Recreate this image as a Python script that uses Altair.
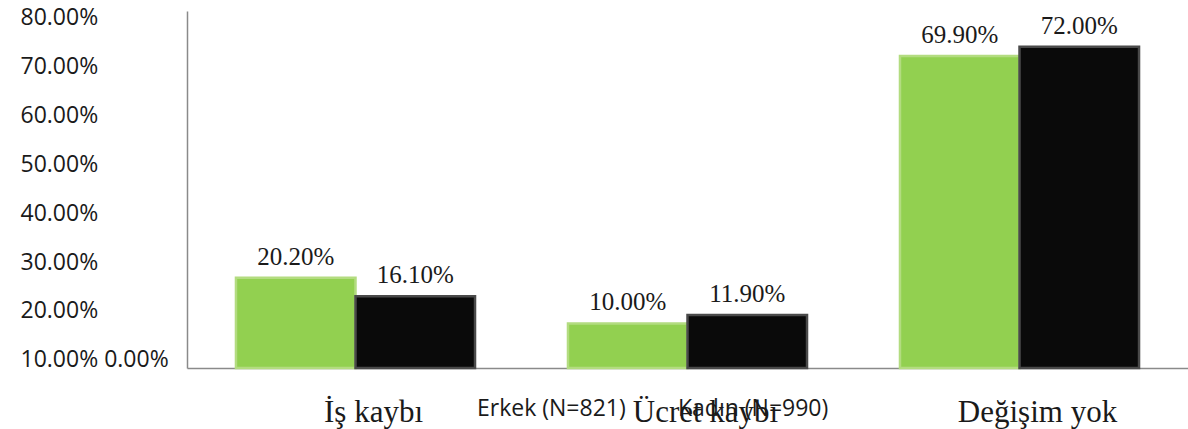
import altair as alt
import pandas as pd

categories = ["İş kaybı", "Ücret kaybı", "Değişim yok"]
groups = ["Erkek (N=821)", "Kadın (N=990)"]
erkek = [20.2, 10.0, 69.9]
kadin = [16.1, 11.9, 72.0]
tick_values = [10, 20, 30, 40, 50, 60, 70, 80]
tick_labels = ["10.00% 0.00%", "20.00%", "30.00%", "40.00%", "50.00%", "60.00%", "70.00%", "80.00%"]

rows = []
for i, c in enumerate(categories):
    rows.append({"cat": c, "grp": groups[0], "grp_s": "s" + groups[0], "val": erkek[i]})
    rows.append({"cat": c, "grp": groups[1], "grp_s": "s" + groups[1], "val": kadin[i]})
df = pd.DataFrame(rows)
ticks_df = pd.DataFrame({"v": tick_values, "lab": tick_labels})

label_expr = "''"
for v, lab in zip(tick_values, tick_labels):
    label_expr = f"datum.value == {v} ? '{lab}' : ({label_expr})"

x_enc = alt.X("cat:N", sort=categories, title=None,
              scale=alt.Scale(paddingInner=0.28, paddingOuter=0.1475),
              axis=alt.Axis(labelAngle=0, labelFont="Liberation Serif", labelFontSize=31,
                            labelColor="#1a1a1a", labelPadding=29, labelOffset=18,
                            ticks=False, domainColor="#8a8a8a", domainWidth=1.5, grid=False))
xoff = alt.XOffset("grp:N", sort=groups)

bars = alt.Chart(df).mark_bar(strokeWidth=2.5).encode(
    x=x_enc,
    xOffset=xoff,
    y=alt.Y("val:Q", scale=alt.Scale(domain=[0, 80], nice=False),
            axis=alt.Axis(orient="left", labels=False, ticks=False, grid=False, title=None,
                          domainColor="#8a8a8a", domainWidth=1.5)),
    color=alt.Color("grp:N", sort=groups,
                    scale=alt.Scale(domain=groups, range=["#92D050", "#0a0a0a"]),
                    legend=alt.Legend(title=None, orient="none", direction="horizontal",
                                      legendX=267, legendY=386, symbolSize=0,
                                      symbolStrokeWidth=0, symbolOpacity=0, labelOffset=0,
                                      columnPadding=29, labelFont="Open Sans",
                                      labelFontSize=23, labelColor="#1a1a1a",
                                      labelLimit=400)),
    stroke=alt.Stroke("grp_s:N",
                      scale=alt.Scale(domain=["s" + g for g in groups],
                                      range=["#b3dc80", "#4a4a4a"]),
                      legend=None),
)

texts = alt.Chart(df).transform_calculate(
    lab="format(datum.val, '.2f') + '%'"
).mark_text(font="Liberation Serif", fontSize=25, color="#1a1a1a",
            baseline="alphabetic", dy=-13).encode(
    x=alt.X("cat:N", sort=categories),
    xOffset=xoff,
    y=alt.Y("val:Q"),
    text="lab:N",
)

ylabels = alt.Chart(ticks_df).mark_tick(opacity=0).encode(
    y=alt.Y("v:Q", scale=alt.Scale(domain=[8.32, 81.43], nice=False, zero=False),
            axis=alt.Axis(orient="left", values=tick_values, labelExpr=label_expr,
                          domain=False, ticks=False, grid=False, title=None,
                          labelAlign="left", labelPadding=167, labelBaseline="middle",
                          labelFont="Open Sans", labelFontSize=23, labelColor="#1a1a1a",
                          labelLimit=400))
)

chart = alt.layer(alt.layer(bars, texts), ylabels).resolve_scale(y="independent").properties(
    width=1001, height=357,
    autosize=alt.AutoSizeParams(type="none"),
    padding={"left": 187, "top": 11, "right": 0, "bottom": 61},
).configure_view(stroke=None)

chart.save("out.html", embed_options={"renderer": "svg", "actions": False})
